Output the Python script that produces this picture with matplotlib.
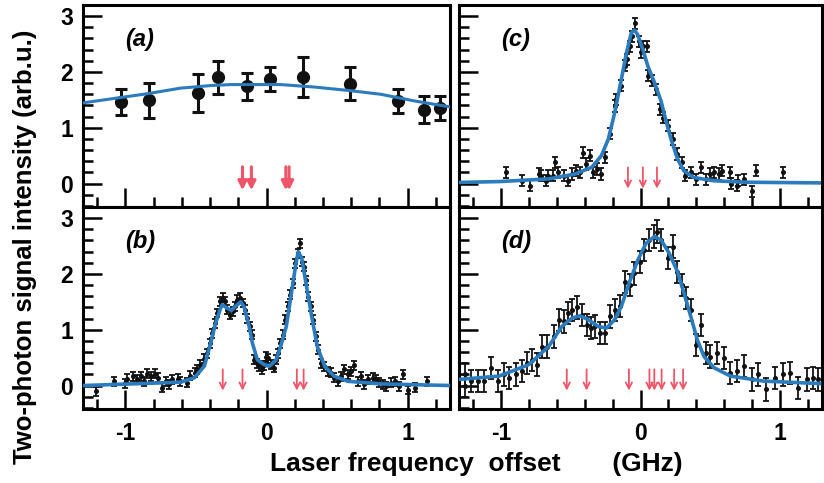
import matplotlib
matplotlib.use('Agg')
import matplotlib.pyplot as plt
from matplotlib.ticker import MultipleLocator

plt.rcParams['font.family'] = ['Liberation Sans', 'DejaVu Sans']
plt.rcParams['font.weight'] = 'bold'
plt.rcParams['axes.unicode_minus'] = False

BLUE = '#2b7bbf'
RED = '#ef5468'

# panel (a)
a_x = [-1.03, -0.83, -0.486, -0.344, -0.135, 0.026, 0.26, 0.594, 0.93, 1.115, 1.226]
a_y = [1.46, 1.49, 1.625, 1.905, 1.744, 1.875, 1.91, 1.79, 1.476, 1.327, 1.357]
a_err = [0.24, 0.31, 0.34, 0.30, 0.24, 0.22, 0.35, 0.30, 0.21, 0.25, 0.21]
a_fit_x = [-1.3, -0.845, -0.609, -0.396, -0.254, 0.10, 0.338, 0.575, 0.81, 1.05, 1.31]
a_fit_y = [1.446, 1.61, 1.71, 1.756, 1.774, 1.774, 1.73, 1.67, 1.60, 1.48, 1.37]
a_arrows = [-0.17, -0.107, 0.137, 0.16]

# panel (b)
b_x = [-1.21, -1.08, -1.0, -0.99, -0.945, -0.92, -0.89, -0.87, -0.845, -0.817,
       -0.79, -0.77, -0.74, -0.715, -0.69, -0.67, -0.63, -0.61, -0.56, -0.54,
       -0.51, -0.49, -0.47, -0.44, -0.42, -0.40, -0.385, -0.365, -0.35, -0.33,
       -0.31, -0.295, -0.277, -0.258, -0.24, -0.225, -0.206, -0.187, -0.17, -0.154,
       -0.135, -0.116, -0.10, -0.088, -0.07, -0.052, -0.035, -0.02, -0.005, 0.012,
       0.03, 0.05, 0.066, 0.083, 0.097, 0.114, 0.13, 0.15, 0.166, 0.185,
       0.20, 0.22, 0.234, 0.249, 0.263, 0.28, 0.296, 0.315, 0.33, 0.35,
       0.367, 0.386, 0.41, 0.433, 0.457, 0.48, 0.504, 0.528, 0.55, 0.575,
       0.60, 0.62, 0.646, 0.67, 0.694, 0.72, 0.753, 0.776, 0.80, 0.824,
       0.85, 0.88, 0.91, 0.94, 0.966, 1.0, 1.05, 1.14]
b_y = [-0.10, 0.08, 0.04, 0.12, 0.17, 0.11, 0.17, 0.08, 0.21, 0.17,
       0.21, 0.14, -0.04, 0.08, 0.02, 0.11, 0.12, 0.08, 0.05, 0.18,
       0.23, 0.29, 0.375, 0.48, 0.58, 0.76, 0.94, 1.12, 1.30, 1.51,
       1.57, 1.51, 1.36, 1.27, 1.33, 1.42, 1.54, 1.57, 1.48, 1.36,
       1.21, 1.06, 0.91, 0.46, 0.40, 0.345, 0.29, 0.36, 0.52, 0.49,
       0.375, 0.32, 0.46, 0.58, 0.76, 0.91, 1.18, 1.42, 1.625, 1.83,
       2.19, 2.37, 2.55, 2.22, 2.13, 1.89, 1.595, 1.42, 1.18, 0.88,
       0.64, 0.40, 0.345, 0.26, 0.23, 0.14, 0.08, 0.17, 0.29, 0.20,
       0.26, 0.36, 0.08, 0.17, 0.02, 0.11, 0.14, 0.11, 0.06, 0.02,
       -0.01, 0.05, 0.08, -0.01, 0.20, -0.08, -0.04, 0.08]
b_err = 0.08
b_fit_x = [-1.3, -0.61, -0.51, -0.44, -0.396, -0.36, -0.325, -0.313, -0.28, -0.249,
           -0.22, -0.183, -0.16, -0.123, -0.10, -0.064, -0.017, 0.019, 0.033, 0.068,
           0.10, 0.14, 0.173, 0.209, 0.225, 0.25, 0.28, 0.32, 0.36, 0.412,
           0.48, 0.575, 0.81, 1.31]
b_fit_y = [0.0, 0.06, 0.14, 0.35, 0.76, 1.12, 1.39, 1.45, 1.39, 1.345,
           1.42, 1.50, 1.42, 1.06, 0.76, 0.46, 0.375, 0.345, 0.375, 0.46,
           0.70, 1.06, 1.6, 2.19, 2.40, 2.28, 1.83, 1.24, 0.70, 0.345,
           0.167, 0.077, 0.03, 0.0]
b_arrows = [-0.31, -0.17, 0.215, 0.263]

# panel (c)
c_x = [-0.966, -0.85, -0.79, -0.73, -0.71, -0.68, -0.66, -0.63, -0.61, -0.59,
       -0.55, -0.52, -0.49, -0.46, -0.43, -0.41, -0.39, -0.36, -0.34, -0.315,
       -0.28, -0.256, -0.22, -0.185, -0.173, -0.142, -0.114, -0.095, -0.078, -0.062,
       -0.036, -0.014, 0.0, 0.017, 0.047, 0.052, 0.08, 0.111, 0.142, 0.16,
       0.194, 0.23, 0.265, 0.30, 0.32, 0.36, 0.395, 0.43, 0.466, 0.50,
       0.525, 0.56, 0.585, 0.64, 0.645, 0.69, 0.70, 0.74, 0.80, 0.83, 1.02]
c_y = [0.20, 0.05, -0.04, 0.17, 0.14, 0.05, 0.14, 0.14, 0.38, 0.20,
       0.14, 0.05, 0.17, 0.23, 0.20, 0.55, 0.35, 0.50, 0.20, 0.26,
       0.17, 0.47, 0.89, 1.39, 1.51, 1.75, 2.11, 2.23, 2.46, 2.64,
       2.87, 2.55, 2.35, 2.46, 2.46, 1.93, 1.84, 1.69, 1.33, 1.18,
       1.04, 0.80, 0.53, 0.38, 0.14, 0.20, 0.08, 0.29, 0.08, 0.17,
       0.20, 0.17, 0.23, 0.20, 0.0, -0.04, 0.05, 0.08, -0.14, 0.23, 0.20]
c_err = 0.1
c_fit_x = [-1.3, -1.01, -0.66, -0.47, -0.35, -0.28, -0.23, -0.185, -0.137, -0.10,
           -0.066, -0.043, -0.02, 0.017, 0.052, 0.10, 0.147, 0.18, 0.218, 0.265,
           0.31, 0.38, 0.525, 0.76, 1.28]
c_fit_y = [0.02, 0.036, 0.083, 0.17, 0.29, 0.50, 0.80, 1.27, 1.87, 2.35,
           2.70, 2.75, 2.67, 2.40, 2.11, 1.81, 1.48, 1.15, 0.80, 0.44,
           0.23, 0.11, 0.05, 0.024, 0.012]
c_arrows = [-0.09, 0.017, 0.118]

# panel (d)
d_x = [-1.26, -1.26, -1.215, -1.167, -1.12, -1.07, -1.02, -0.98, -0.94, -0.895,
       -0.85, -0.81, -0.776, -0.74, -0.705, -0.67, -0.62, -0.587, -0.55, -0.516,
       -0.488, -0.457, -0.42, -0.386, -0.355, -0.327, -0.29, -0.256, -0.22, -0.185,
       -0.15, -0.114, -0.078, -0.043, -0.007, 0.028, 0.064, 0.10, 0.118, 0.147,
       0.194, 0.23, 0.265, 0.30, 0.324, 0.36, 0.395, 0.43, 0.466, 0.50,
       0.55, 0.60, 0.644, 0.69, 0.74, 0.80, 0.845, 0.90, 0.96, 1.02,
       1.07, 1.13, 1.19, 1.235, 1.27]
d_y = [0.20, -0.01, 0.08, 0.08, 0.08, 0.32, 0.08, 0.20, 0.14, 0.20,
       0.26, 0.40, 0.46, 0.375, 0.70, 0.70, 0.88, 1.18, 1.15, 1.30,
       1.36, 1.40, 1.27, 1.09, 1.03, 1.06, 0.94, 0.94, 1.24, 1.36,
       1.42, 1.86, 1.80, 2.01, 2.22, 2.43, 2.61, 2.67, 2.76, 2.61,
       2.28, 2.49, 2.04, 1.80, 1.57, 1.36, 0.73, 1.09, 0.58, 0.52,
       0.58, 0.49, 0.23, 0.26, 0.345, 0.11, 0.20, -0.07, 0.14, 0.20,
       0.23, -0.04, 0.11, 0.14, 0.11]
d_err = 0.2
d_fit_x = [-1.30, -1.013, -0.80, -0.658, -0.563, -0.49, -0.433, -0.374, -0.303, -0.244,
           -0.185, -0.137, -0.078, -0.019, 0.04, 0.10, 0.147, 0.206, 0.265, 0.3125,
           0.36, 0.407, 0.455, 0.526, 0.644, 0.88, 1.283]
d_fit_y = [0.11, 0.17, 0.375, 0.70, 1.06, 1.21, 1.25, 1.18, 1.06, 1.03,
           1.18, 1.42, 1.86, 2.25, 2.55, 2.67, 2.61, 2.37, 2.04, 1.65,
           1.24, 0.82, 0.52, 0.32, 0.17, 0.08, 0.036]
d_arrows = [-0.528, -0.386, -0.083, 0.064, 0.099, 0.151, 0.241, 0.305]

fig = plt.figure(figsize=(8.24, 4.83), dpi=100)
W, H = 824.0, 483.0
def box(x0, x1, y0, y1):
    return [x0 / W, 1 - y1 / H, (x1 - x0) / W, (y1 - y0) / H]

ax_a = fig.add_axes(box(83, 450, 5, 207))
ax_b = fig.add_axes(box(83, 450, 207, 409))
ax_c = fig.add_axes(box(459, 822, 5, 207))
ax_d = fig.add_axes(box(459, 822, 207, 409))

def style(ax, left, bottom):
    ax.set_xlim(-1.3, 1.3)
    ax.set_ylim(-0.42, 3.2)
    ax.set_xticks([-1, 0, 1])
    ax.set_yticks([0, 1, 2, 3])
    ax.xaxis.set_minor_locator(MultipleLocator(0.2))
    ax.yaxis.set_minor_locator(MultipleLocator(0.2))
    ax.tick_params(which='both', direction='in', width=1.8, top=False, right=False,
                   labelsize=16.5)
    ax.tick_params(which='major', length=14)
    ax.tick_params(which='minor', length=7)
    ax.tick_params(axis='x', pad=9)
    ax.tick_params(axis='y', pad=7)
    for s in ax.spines.values():
        s.set_linewidth(2.2)
    if not left:
        ax.set_yticklabels([])
    if not bottom:
        ax.set_xticklabels([])
    for lab in ax.get_xticklabels() + ax.get_yticklabels():
        lab.set_fontweight('bold')

def arrows(ax, xs, big=False):
    for x in xs:
        if big:
            ax.annotate('', xy=(x, -0.12), xytext=(x, 0.3),
                        arrowprops=dict(arrowstyle='-|>', color=RED, lw=2.2,
                                        mutation_scale=13, shrinkA=0, shrinkB=0))
        else:
            ax.annotate('', xy=(x, -0.09), xytext=(x, 0.29),
                        arrowprops=dict(arrowstyle='->', color=RED, lw=1.3,
                                        mutation_scale=11, shrinkA=0, shrinkB=0))

ax_a.errorbar(a_x, a_y, yerr=a_err, fmt='o', color='#111111', ms=8.5,
              elinewidth=2.2, capsize=4, capthick=2.2, zorder=3)
ax_a.plot(a_fit_x, a_fit_y, color=BLUE, lw=2.2, zorder=4)
arrows(ax_a, a_arrows, big=True)

for ax, xs, ys, err, fx, fy, arr in [
        (ax_b, b_x, b_y, b_err, b_fit_x, b_fit_y, b_arrows),
        (ax_c, c_x, c_y, c_err, c_fit_x, c_fit_y, c_arrows),
        (ax_d, d_x, d_y, d_err, d_fit_x, d_fit_y, d_arrows)]:
    ax.errorbar(xs, ys, yerr=err, fmt='o', color='#111111', ms=2.6,
                elinewidth=1.3, capsize=2.2, capthick=1.3, zorder=3)
    ax.plot(fx, fy, color=BLUE, lw=2.6, zorder=4)
    arrows(ax, arr)

style(ax_a, True, False)
style(ax_b, True, True)
style(ax_c, False, False)
style(ax_d, False, True)

for ax, lab in [(ax_a, '(a)'), (ax_b, '(b)'), (ax_c, '(c)'), (ax_d, '(d)')]:
    ax.text(0.115, 0.83, lab, transform=ax.transAxes, fontsize=17,
            fontweight='bold', fontstyle='italic', va='center', ha='left')

fig.text(476 / W, 1 - 464 / H, 'Laser frequency  offset       (GHz)', ha='center',
         va='center', fontsize=19, fontweight='bold')
fig.text(25 / W, 1 - 247 / H, 'Two-photon signal intensity (arb.u.)', rotation=90,
         ha='center', va='center', fontsize=18.5, fontweight='bold')

fig.savefig('out.png', dpi=100)
